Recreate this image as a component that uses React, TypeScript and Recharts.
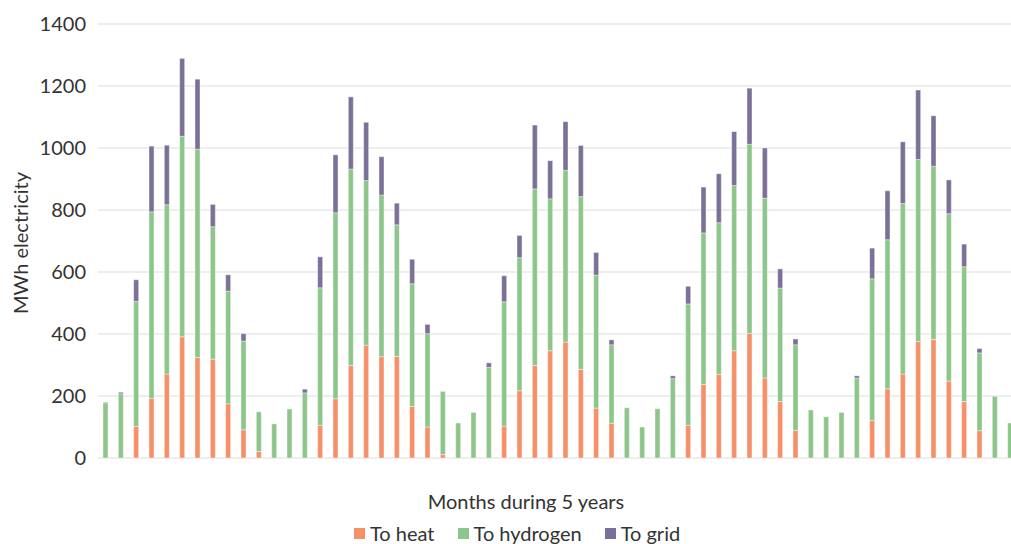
import React from "react";
import { BarChart, Bar, XAxis, YAxis, CartesianGrid } from "recharts";

// Monthly electricity use over 5 years (MWh)
const months = Array.from({ length: 60 }, (_, i) => `M${i + 1}`);

const toHeat = [
  0, 0, 102, 192, 271, 391, 324, 319, 175, 91, 21, 0,
  0, 0, 105, 191, 299, 364, 327, 328, 166, 100, 11, 0,
  0, 0, 103, 217, 298, 346, 374, 286, 161, 112, 0, 0,
  0, 0, 105, 237, 270, 346, 402, 258, 182, 89, 0, 0,
  0, 0, 121, 223, 271, 376, 382, 248, 182, 88, 0, 0,
];

const toHydrogen = [
  178, 207, 403, 602, 546, 647, 672, 427, 363, 286, 128, 110,
  158, 210, 444, 600, 633, 531, 521, 424, 396, 301, 204, 113,
  147, 292, 401, 429, 570, 490, 554, 557, 429, 253, 162, 100,
  159, 256, 392, 489, 489, 533, 610, 580, 366, 276, 155, 133,
  147, 258, 457, 481, 550, 587, 559, 540, 435, 251, 199, 113,
];

const toGrid = [
  2, 5, 70, 212, 192, 251, 226, 72, 53, 24, 0, 0,
  0, 12, 100, 187, 233, 188, 124, 70, 79, 30, 0, 0,
  0, 15, 84, 72, 206, 123, 157, 165, 73, 16, 0, 0,
  0, 9, 57, 148, 158, 174, 181, 162, 62, 19, 0, 0,
  0, 7, 99, 158, 199, 224, 163, 109, 73, 14, 0, 0,
];

const yTicks = [0, 200, 400, 600, 800, 1000, 1200, 1400];

const series = [
  { key: "heat", name: "To heat", color: "#F69068" },
  { key: "hydrogen", name: "To hydrogen", color: "#8DC68A" },
  { key: "grid", name: "To grid", color: "#7B7198" },
];

const data = months.map((m, i) => ({
  month: m,
  heat: toHeat[i],
  hydrogen: toHydrogen[i],
  grid: toGrid[i],
}));

const FONT = "Lato, 'Noto Sans', sans-serif";

export default function App() {
  return (
    <div
      style={{
        position: "absolute",
        left: 0,
        top: 0,
        width: 1011,
        height: 544,
        overflow: "hidden",
        background: "#fff",
        fontFamily: FONT,
      }}
    >
      <BarChart
        width={1026}
        height={544}
        data={data}
        margin={{ top: 24, right: 8, bottom: 86, left: 0 }}
        barSize={5}
      >
        <CartesianGrid vertical={false} stroke="#e8e8e8" strokeWidth={1.5} />
        <XAxis
          dataKey="month"
          tick={false}
          tickLine={false}
          height={0}
          axisLine={{ stroke: "#2b2b2b", strokeWidth: 2 }}
        />
        <YAxis
          width={98}
          domain={[0, 1400]}
          ticks={yTicks}
          axisLine={false}
          tickLine={false}
          tickSize={6}
          tickMargin={6}
          tick={{ fill: "#333", fontSize: 20, fontFamily: FONT }}
        />
        {series.map((s) => (
          <Bar
            key={s.key}
            dataKey={s.key}
            name={s.name}
            stackId="a"
            fill={s.color}
            stroke="#ffffff"
            strokeWidth={0.4}
            isAnimationActive={false}
          />
        ))}
      </BarChart>

      <div
        style={{
          position: "absolute",
          left: 20,
          top: 243,
          transform: "translate(-50%, -50%) rotate(-90deg)",
          fontSize: 20,
          color: "#333",
          whiteSpace: "nowrap",
        }}
      >
        MWh electricity
      </div>

      <div
        style={{
          position: "absolute",
          left: 526,
          top: 501,
          transform: "translate(-50%, -50%)",
          fontSize: 20,
          color: "#333",
          whiteSpace: "nowrap",
        }}
      >
        Months during 5 years
      </div>

      <div
        style={{
          position: "absolute",
          left: 354,
          top: 533,
          transform: "translate(0, -50%)",
          display: "flex",
          alignItems: "center",
          gap: 23,
          fontSize: 20,
          color: "#333",
          whiteSpace: "nowrap",
        }}
      >
        {series.map((s) => (
          <div key={s.key} style={{ display: "flex", alignItems: "center", gap: 5 }}>
            <span style={{ width: 11, height: 11, background: s.color, display: "inline-block" }} />
            <span>{s.name}</span>
          </div>
        ))}
      </div>
    </div>
  );
}
